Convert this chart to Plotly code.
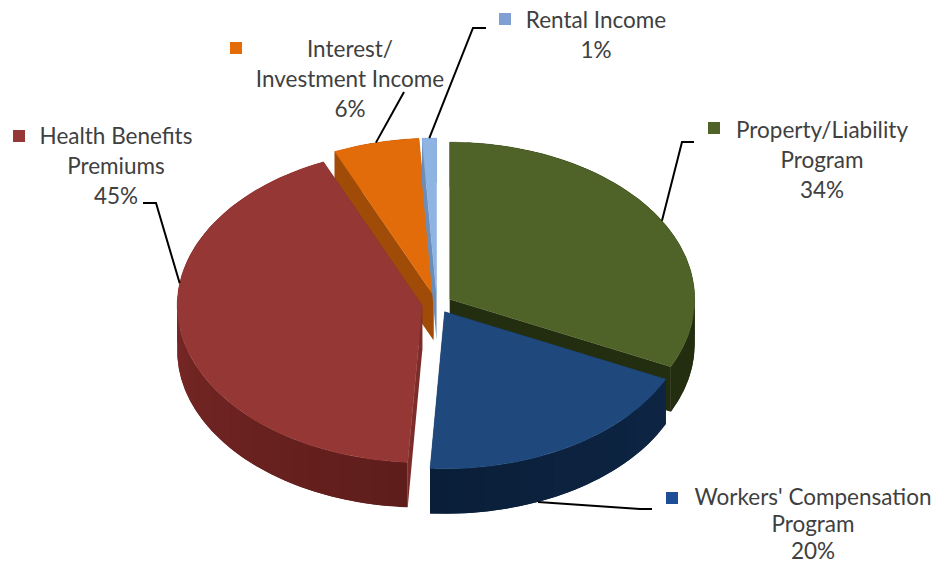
import math
import plotly.graph_objects as go

# Chart data, listed clockwise from twelve o'clock
categories = ["Property/Liability Program", "Workers' Compensation Program",
              "Health Benefits Premiums", "Interest/ Investment Income", "Rental Income"]
shares = [34, 20, 45, 6, 1]
label_lines = [["Property/Liability", "Program"], ["Workers' Compensation", "Program"],
               ["Health Benefits", "Premiums"], ["Interest/", "Investment Income"], ["Rental Income"]]

# Pie geometry in page pixels
CX, CY, RX, RY, DEPTH = 437.0, 304.0, 245.0, 157.0, 45.0
EX, EY = 15.0, 9.0

TOP_COLORS = ["#4F6228", "#1F497D", "#953735", "#E36C0A", "#8EB4E3"]
CUT_COLORS = ["#232D0F", "#0E2743", "#7C2C2A", "#A04C08", "#6C8DB8"]
RIM_COLORS = [("#232D0F", "#232D0F"), ("#0D2543", "#0A1E38"), ("#5E1D1B", "#8A2F2D"),
              ("#A04C08", "#A04C08"), ("#6C8DB8", "#6C8DB8")]
MARK_COLORS = ["#4F6228", "#1F4E99", "#953735", "#E36C09", "#7F9FD5"]
TEXT_COLOR = "#404040"

# Label layout: text centre x, first line y, line spacing, marker position
LABEL_X = [822, 813, 116, 350, 596]
LABEL_Y = [132, 499, 138, 51, 22]
LINE_GAPS = [30, 27, 30, 30, 30]
MARK_X = [714, 672, 19, 236, 505]
MARK_Y = [128, 498, 136, 48, 19]
LEADERS = [[(694, 142), (682, 142)], [(652, 509), (640, 509)], [(143, 203), (156, 203)],
           [(404, 92)], [(486, 28), (473, 28)]]
LEADER_RIM_T = [0.52, 0.62, 0.62, 0.5, 0.5]


def hex_mix(a, b, t):
    ca = [int(a[i:i + 2], 16) for i in (1, 3, 5)]
    cb = [int(b[i:i + 2], 16) for i in (1, 3, 5)]
    return "#" + "".join(f"{round(x + (y - x) * t):02X}" for x, y in zip(ca, cb))


def polygon(xs, ys, color, width=0.0):
    return go.Scatter(x=xs, y=ys, mode="lines", fill="toself", fillcolor=color,
                      line=dict(color=color, width=width), hoverinfo="skip", showlegend=False)


def rim_point(apex, deg, drop=0.0):
    a = math.radians(deg)
    return apex[0] + RX * math.sin(a), apex[1] - RY * math.cos(a) + drop


total = sum(shares)
spans = []
start = 0.0
for value in shares:
    sweep = 360.0 * value / total
    spans.append((start, start + sweep))
    start += sweep

apexes = []
for a0, a1 in spans:
    mid = math.radians((a0 + a1) / 2)
    apexes.append((CX + EX * math.sin(mid), CY - EY * math.cos(mid)))

fig = go.Figure()

# Painted back to front: the two thin top slices, then the large ones
for i in (3, 4, 0, 2, 1):
    a0, a1 = spans[i]
    apex = apexes[i]
    for edge in (a0, a1):
        ex, ey = rim_point(apex, edge)
        fig.add_trace(polygon([apex[0], ex, ex, apex[0], apex[0]],
                              [apex[1], ey, ey + DEPTH, apex[1] + DEPTH, apex[1]], CUT_COLORS[i]))
    # Each rim band overlaps the next one so no seams show between shades
    steps = max(2, int((a1 - a0) / 4))
    for s in range(steps):
        frac = (a1 - a0) / steps
        band = [a0 + frac * s + frac * k / 8 for k in range(17)]
        band = [min(d, a1) for d in band]
        pts = [rim_point(apex, d) for d in band]
        fig.add_trace(polygon([p[0] for p in pts] + [p[0] for p in reversed(pts)] + [pts[0][0]],
                              [p[1] for p in pts] + [p[1] + DEPTH for p in reversed(pts)] + [pts[0][1]],
                              hex_mix(RIM_COLORS[i][0], RIM_COLORS[i][1], s / steps)))
    arc = [rim_point(apex, a0 + (a1 - a0) * k / 80) for k in range(81)]
    fig.add_trace(polygon([apex[0]] + [p[0] for p in arc] + [apex[0]],
                          [apex[1]] + [p[1] for p in arc] + [apex[1]], TOP_COLORS[i], 0.5))

# Leader lines run from each label to the rim of its slice
for i, bends in enumerate(LEADERS):
    a0, a1 = spans[i]
    anchor = rim_point(apexes[i], a0 + (a1 - a0) * LEADER_RIM_T[i], DEPTH if i == 1 else 0.0)
    pts = bends + [anchor]
    fig.add_trace(go.Scatter(x=[p[0] for p in pts], y=[p[1] for p in pts], mode="lines",
                             line=dict(color="#000000", width=2), hoverinfo="skip", showlegend=False))

# Category labels with their colour markers
for i, lines in enumerate(label_lines):
    rows = lines + [f"{shares[i]}%"]
    fig.add_trace(go.Scatter(x=[LABEL_X[i]] * len(rows),
                             y=[LABEL_Y[i] + LINE_GAPS[i] * r for r in range(len(rows))],
                             mode="text", text=rows, textposition="middle center",
                             textfont=dict(family="Lato", size=22.5, color=TEXT_COLOR),
                             hoverinfo="skip", showlegend=False))
    fig.add_trace(go.Scatter(x=[MARK_X[i]], y=[MARK_Y[i]], mode="markers",
                             marker=dict(symbol="square", size=12, color=MARK_COLORS[i]),
                             hoverinfo="skip", showlegend=False))

fig.update_layout(width=938, height=568, margin=dict(l=0, r=0, t=0, b=0),
                  paper_bgcolor="#FFFFFF", plot_bgcolor="#FFFFFF",
                  xaxis=dict(range=[0, 938], visible=False, fixedrange=True),
                  yaxis=dict(range=[568, 0], visible=False, fixedrange=True))
fig.write_html("out.html", config={"displayModeBar": False})
